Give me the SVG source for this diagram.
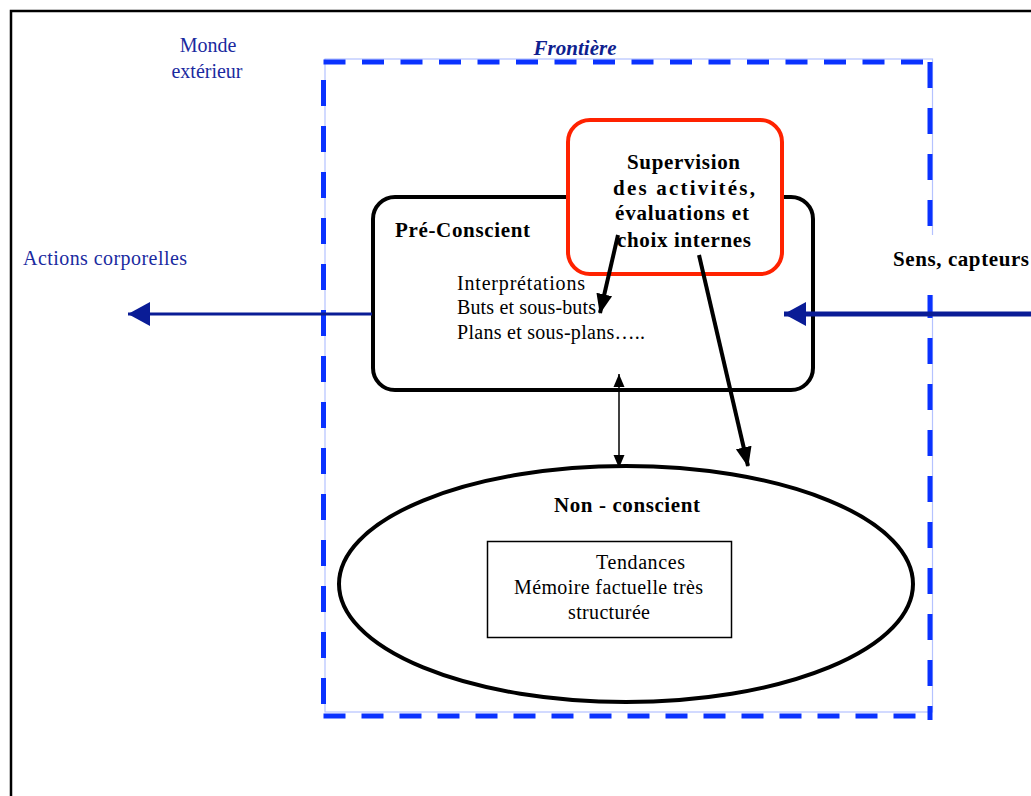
<svg xmlns="http://www.w3.org/2000/svg" width="1031" height="796" viewBox="0 0 1031 796">
<defs>
<style>
.reg{font-family:"Liberation Serif","Times New Roman",serif;font-size:20px;fill:#000}
.blue{fill:#1a2aa0}
.bold{font-family:"Liberation Serif","Times New Roman",serif;font-size:21px;font-weight:bold;fill:#000}
.thick{fill:none;stroke:#000;stroke-width:4}
.dash{fill:none;stroke:#0a32ff;stroke-width:5}
.light{fill:none;stroke:#b4c2ff;stroke-width:1.2}
.navy{stroke:#0a1c96;fill:none}
</style>
<marker id="ahBlack" markerUnits="userSpaceOnUse" markerWidth="22" markerHeight="22" viewBox="0 0 22 22" refX="19" refY="11" orient="auto">
<path d="M0,3 L20,11 L0,19 Z" fill="#000"/>
</marker>
<marker id="ahThin" markerUnits="userSpaceOnUse" markerWidth="14" markerHeight="14" viewBox="0 0 14 14" refX="13" refY="7" orient="auto-start-reverse">
<path d="M0,1.5 L13,7 L0,12.5 Z" fill="#000"/>
</marker>
<marker id="ahNavy" markerUnits="userSpaceOnUse" markerWidth="24" markerHeight="28" viewBox="0 0 24 28" refX="22" refY="14" orient="auto">
<path d="M0,2 L22,14 L0,26 Z" fill="#0a1c96"/>
</marker>
</defs>

<g id="frame">
<path d="M11,796 V11 H1031" fill="none" stroke="#000" stroke-width="2.5"/>
</g>

<g id="frontiere">
<rect class="light" x="325" y="59" width="607.5" height="653"/>
<path class="dash" d="M323.5,62 H930" stroke-dasharray="22 16.5"/>
<path class="dash" d="M323.5,716 H930" stroke-dasharray="22 16"/>
<path class="dash" d="M323.5,80 V720" stroke-dasharray="26 20"/>
<path class="dash" d="M930,62 V720" stroke-dasharray="26 20"/>
<rect x="888" y="235" width="143" height="60" fill="#fff"/>
<text x="575" y="55" text-anchor="middle" style="font-family:'Liberation Serif',serif;font-size:21px;font-weight:bold;font-style:italic;fill:#0f1f8f" textLength="83" lengthAdjust="spacing">Frontière</text>
</g>

<g id="monde">
<text class="reg blue" x="208" y="52" text-anchor="middle">Monde</text>
<text class="reg blue" x="207" y="78" text-anchor="middle">extérieur</text>
</g>

<g id="preconscient">
<rect class="thick" x="373" y="197" width="440" height="193" rx="22" style="fill:#fff"/>
<text class="bold" x="395" y="237" textLength="135" lengthAdjust="spacing">Pré-Conscient</text>
<text class="reg" x="457" y="290" textLength="128" lengthAdjust="spacing">Interprétations</text>
<text class="reg" x="457" y="314" textLength="139" lengthAdjust="spacing">Buts et sous-buts</text>
<text class="reg" x="457" y="339" textLength="188" lengthAdjust="spacing">Plans et sous-plans…..</text>
</g>

<g id="supervision">
<rect x="568" y="120" width="214" height="154" rx="22" fill="#fff" stroke="#ff2200" stroke-width="4"/>
<text class="bold" x="627" y="169" textLength="113" lengthAdjust="spacing">Supervision</text>
<text class="bold" x="613" y="195" textLength="142" lengthAdjust="spacing">des activités,</text>
<text class="bold" x="615" y="220" textLength="134" lengthAdjust="spacing">évaluations et</text>
<text class="bold" x="617" y="247" textLength="134" lengthAdjust="spacing">choix internes</text>
</g>

<g id="sens">
<text class="bold" x="893" y="266" textLength="136" lengthAdjust="spacing">Sens, capteurs</text>
</g>

<g id="actions">
<text class="reg blue" x="23" y="265" textLength="164" lengthAdjust="spacing">Actions corporelles</text>
</g>

<g id="nonconscient">
<ellipse class="thick" cx="626" cy="584" rx="287" ry="118" style="fill:#fff"/>
<text class="bold" x="554" y="512" textLength="146" lengthAdjust="spacing">Non - conscient</text>
<rect x="487.5" y="541.5" width="244" height="96" fill="#fff" stroke="#000" stroke-width="1.5"/>
<text class="reg" x="596" y="569" textLength="89" lengthAdjust="spacing">Tendances</text>
<text class="reg" x="514" y="594" textLength="189" lengthAdjust="spacing">Mémoire factuelle très</text>
<text class="reg" x="568" y="619" textLength="82" lengthAdjust="spacing">structurée</text>
</g>

<g id="connectors">
<line class="navy" x1="372" y1="314" x2="128" y2="314" stroke-width="3" marker-end="url(#ahNavy)"/>
<line class="navy" x1="1031" y1="314" x2="784" y2="314" stroke-width="5" marker-end="url(#ahNavy)"/>
<line x1="618" y1="235" x2="600" y2="313" stroke="#000" stroke-width="4" marker-end="url(#ahBlack)"/>
<line x1="699" y1="255" x2="748" y2="466" stroke="#000" stroke-width="4" marker-end="url(#ahBlack)"/>
<line x1="619" y1="374" x2="619" y2="468" stroke="#000" stroke-width="1.5" marker-start="url(#ahThin)" marker-end="url(#ahThin)"/>
</g>
</svg>
